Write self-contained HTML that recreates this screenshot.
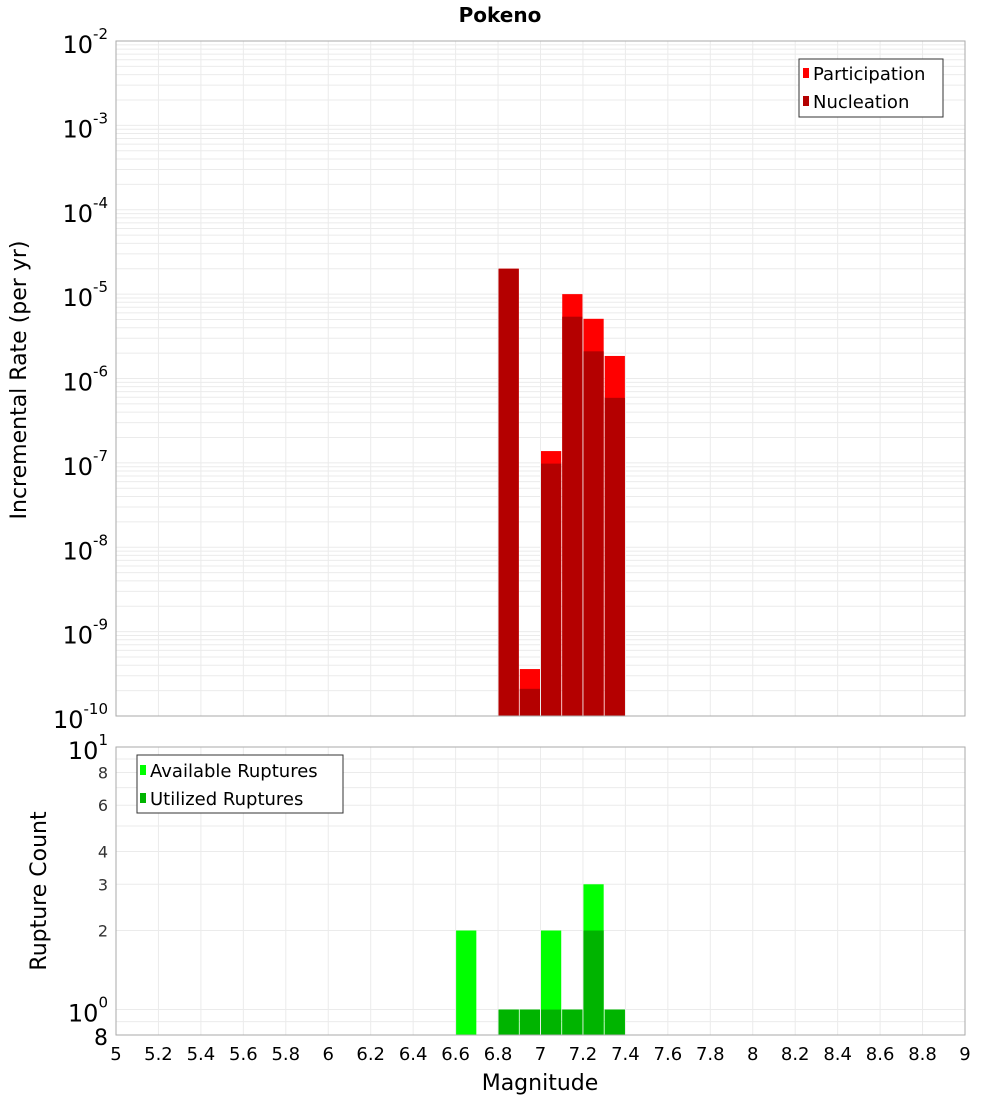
<!DOCTYPE html>
<html><head><meta charset="utf-8"><style>
body{margin:0;background:#fff;font-family:"Liberation Sans","DejaVu Sans",sans-serif}
svg text{font-family:"DejaVu Sans","Liberation Sans",sans-serif}
</style></head><body>
<svg id="chart" width="1000" height="1100" xmlns="http://www.w3.org/2000/svg">
<text x="500" y="22" text-anchor="middle" font-size="20" font-weight="bold">Pokeno</text>
<g id="topg"></g>
<g id="botg"></g>
<text transform="translate(26,380) rotate(-90)" text-anchor="middle" font-size="22">Incremental Rate (per yr)</text>
<text transform="translate(46,891) rotate(-90)" text-anchor="middle" font-size="22">Rupture Count</text>
<text x="540" y="1090" text-anchor="middle" font-size="22">Magnitude</text>
</svg>
<script>
const binCenters=[6.85,6.95,7.05,7.15,7.25,7.35];
const participation=[2.0e-5,3.6e-10,1.38e-7,1.0e-5,5.1e-6,1.85e-6];
const nucleation=[2.0e-5,2.1e-10,9.8e-8,5.4e-6,2.1e-6,5.9e-7];
const countBins=[6.65,6.85,6.95,7.05,7.15,7.25,7.35];
const available=[2,1,1,2,1,3,1];
const utilized=[0,1,1,1,1,2,1];
const xTicks=[5,5.2,5.4,5.6,5.8,6,6.2,6.4,6.6,6.8,7,7.2,7.4,7.6,7.8,8,8.2,8.4,8.6,8.8,9];
const topExps=[-2,-3,-4,-5,-6,-7,-8,-9,-10];
const botTicks=[8,6,4,3,2];

const NS="http://www.w3.org/2000/svg";
const L=116,R=965;
const X=m=>L+(m-5)*(R-L)/4;
const TT=41,TB=716;
const YT=v=>TT+(-2-Math.log10(v))*(TB-TT)/8;
const BT=747,BB=1035;
const BL=Math.log10(0.8),BH=1;
const YB=v=>BT+(BH-Math.log10(v))*(BB-BT)/(BH-BL);
function el(p,t,a){const e=document.createElementNS(NS,t);for(const k in a)e.setAttribute(k,a[k]);p.appendChild(e);return e;}
const topG=document.getElementById('topg'),botG=document.getElementById('botg');
function grid(g,t,b){
 xTicks.forEach(m=>{const l=el(g,'line',{x1:X(m),x2:X(m),y1:t,y2:b,stroke:'#ebebeb'});
 
 });
}
el(topG,'rect',{x:L,y:TT,width:R-L,height:TB-TT,fill:'#fff'});
grid(topG,TT,TB);
for(let e=-10;e<-2;e++)for(let k=1;k<10;k++){const y=YT(k*Math.pow(10,e));
 const l=el(topG,'line',{x1:L,x2:R,y1:y,y2:y,stroke:'#ebebeb'});
 
 }
binCenters.forEach((m,i)=>{
 const w=(R-L)/40;
 const a=el(topG,'rect',{x:X(m)-w/2+0.5,y:YT(participation[i]),width:w-1,height:TB-YT(participation[i]),fill:'#ff0000'});
 
 
 const b=el(topG,'rect',{x:X(m)-w/2+0.5,y:YT(nucleation[i]),width:w-1,height:TB-YT(nucleation[i]),fill:'#b40000'});
 
 
});
el(topG,'rect',{x:L,y:TT,width:R-L,height:TB-TT,fill:'none',stroke:'#aaa'});
topExps.forEach(e=>{const y=YT(Math.pow(10,e));
 const t=el(topG,'text',{x:108,y:y+12,'text-anchor':'end','font-size':24});
 
 
 t.innerHTML='10<tspan dy="-14" font-size="15">'+e+'</tspan>';});
const lg=el(topG,'g',{});


el(lg,'rect',{x:799,y:59,width:144,height:58,fill:'#fff',stroke:'#333'});
el(lg,'rect',{x:803,y:68,width:6,height:10,fill:'#ff0000'});
el(lg,'rect',{x:803,y:96,width:6,height:10,fill:'#b40000'});
const t1=el(lg,'text',{x:813,y:80,'font-size':18});t1.textContent='Participation';
const t2=el(lg,'text',{x:813,y:108,'font-size':18});t2.textContent='Nucleation';
el(botG,'rect',{x:L,y:BT,width:R-L,height:BB-BT,fill:'#fff'});
grid(botG,BT,BB);
[0.9,1,2,3,4,5,6,7,8,9].forEach(v=>{const y=YB(v);
 const l=el(botG,'line',{x1:L,x2:R,y1:y,y2:y,stroke:'#ebebeb'});
 
 });
countBins.forEach((m,i)=>{
 const w=(R-L)/40;
 const a=el(botG,'rect',{x:X(m)-w/2+0.5,y:YB(available[i]),width:w-1,height:BB-YB(available[i]),fill:'#00ff00'});
 
 
 if(utilized[i]>0){const b=el(botG,'rect',{x:X(m)-w/2+0.5,y:YB(utilized[i]),width:w-1,height:BB-YB(utilized[i]),fill:'#00b400'});
 
 }
});
el(botG,'rect',{x:L,y:BT,width:R-L,height:BB-BT,fill:'none',stroke:'#aaa'});
botTicks.forEach(v=>{const t=el(botG,'text',{x:108,y:YB(v)+6,'text-anchor':'end','font-size':16,fill:'#333'});
 
 
 t.textContent=v;});
[[10,'1'],[1,'0']].forEach(([v,e])=>{const t=el(botG,'text',{x:108,y:YB(v)+12,'text-anchor':'end','font-size':24});
 
 
 t.innerHTML='10<tspan dy="-14" font-size="15">'+e+'</tspan>';});
const t8=el(botG,'text',{x:108,y:BB+10,'text-anchor':'end','font-size':22});t8.textContent='8';
xTicks.forEach(m=>{const t=el(botG,'text',{x:X(m),y:1060,'text-anchor':'middle','font-size':18});
 
 
 t.textContent=String(m);});
const lb=el(botG,'g',{});


el(lb,'rect',{x:137,y:755,width:206,height:58,fill:'#fff',stroke:'#333'});
el(lb,'rect',{x:140,y:765,width:6,height:10,fill:'#00ff00'});
el(lb,'rect',{x:140,y:793,width:6,height:10,fill:'#00b400'});
const t3=el(lb,'text',{x:150,y:777,'font-size':18});t3.textContent='Available Ruptures';
const t4=el(lb,'text',{x:150,y:805,'font-size':18});t4.textContent='Utilized Ruptures';
</script>
</body></html>
